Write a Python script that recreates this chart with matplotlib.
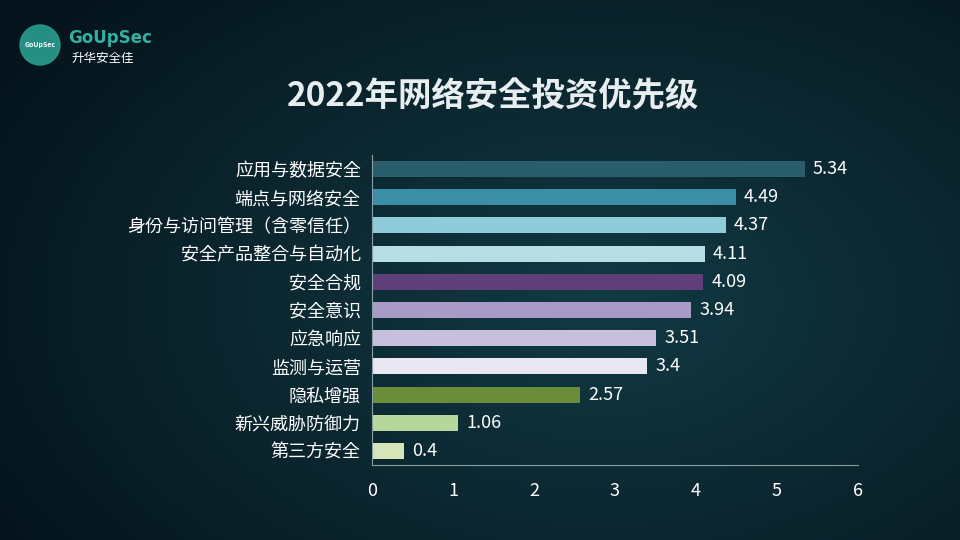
import numpy as np
import matplotlib
matplotlib.use("Agg")
import matplotlib.pyplot as plt
from matplotlib import font_manager as fm
from matplotlib.patches import Circle

categories = ["应用与数据安全", "端点与网络安全", "身份与访问管理（含零信任）", "安全产品整合与自动化",
              "安全合规", "安全意识", "应急响应", "监测与运营", "隐私增强", "新兴威胁防御力", "第三方安全"]
values = [5.34, 4.49, 4.37, 4.11, 4.09, 3.94, 3.51, 3.4, 2.57, 1.06, 0.4]
colors = ["#2b5e6c", "#3a8ea6", "#8fcbd8", "#b6dce4", "#5e3f78", "#a99bc6", "#c6c0dc",
          "#e9e7f1", "#6b8c3a", "#b6d69b", "#d6e5b9"]
xticks = [0, 1, 2, 3, 4, 5, 6]
title = "2022年网络安全投资优先级"

cjk = None
for f in fm.findSystemFonts():
    if "CJK" in f or "cjk" in f.lower():
        try:
            fm.fontManager.addfont(f)
        except Exception:
            pass
names = {f.name for f in fm.fontManager.ttflist}
for cand in ["Noto Sans CJK SC", "Noto Sans CJK JP", "Noto Sans CJK TC", "Noto Sans CJK KR"]:
    if cand in names:
        cjk = cand
        break
if cjk is None:
    cjk = next((n for n in names if "CJK" in n), "DejaVu Sans")
plt.rcParams["font.family"] = [cjk, "DejaVu Sans"]

fig = plt.figure(figsize=(9.6, 5.4), dpi=100)

bg = fig.add_axes([0, 0, 1, 1])
yy, xx = np.mgrid[0:540, 0:960]
d = np.sqrt(((xx - 600) / 700) ** 2 + ((yy - 300) / 450) ** 2)
t = np.clip(d, 0, 1)[..., None]
c1 = np.array([0x12, 0x3a, 0x44]) / 255
c2 = np.array([0x05, 0x14, 0x1c]) / 255
bg.imshow(c1 * (1 - t) + c2 * t, aspect="auto", extent=[0, 960, 540, 0])
bg.set_xlim(0, 960); bg.set_ylim(540, 0); bg.axis("off")
bg.add_patch(Circle((40, 45), 20, color="#2a9d8f", alpha=0.9))
bg.text(40, 45, "GoUpSec", color="white", fontsize=5, ha="center", va="center", fontweight="bold")
bg.text(68, 38, "GoUpSec", color="#35b0a0", fontsize=12, fontweight="bold", va="center", family="DejaVu Sans")
bg.text(72, 58, "升华安全佳", color="white", fontsize=9, va="center")
bg.text(493, 97, "  ".join(title) if False else title, color="#e8eef0", fontsize=24,
        fontweight="bold", ha="center", va="center")

ax = fig.add_axes([372/960, 1-465/540, (858-372)/960, 310/540])
ax.patch.set_alpha(0)
y = np.arange(len(categories))
ax.barh(y, values, color=colors, height=0.57)
for yi, v in zip(y, values):
    ax.text(v + 0.1, yi, f"{v:g}", color="white", fontsize=13, va="center")
ax.set_ylim(len(categories) - 0.5, -0.5)
ax.set_xlim(0, 6)
ax.set_xticks(xticks)
ax.set_yticks(y)
ax.set_yticklabels(categories)
ax.tick_params(colors="white", labelsize=13, length=0)
ax.tick_params(axis="x", pad=12)
ax.tick_params(axis="y", pad=8)
for s in ["top", "right"]:
    ax.spines[s].set_visible(False)
for s in ["left", "bottom"]:
    ax.spines[s].set_color("#8a9ea4")

fig.savefig("out.png", dpi=100)
